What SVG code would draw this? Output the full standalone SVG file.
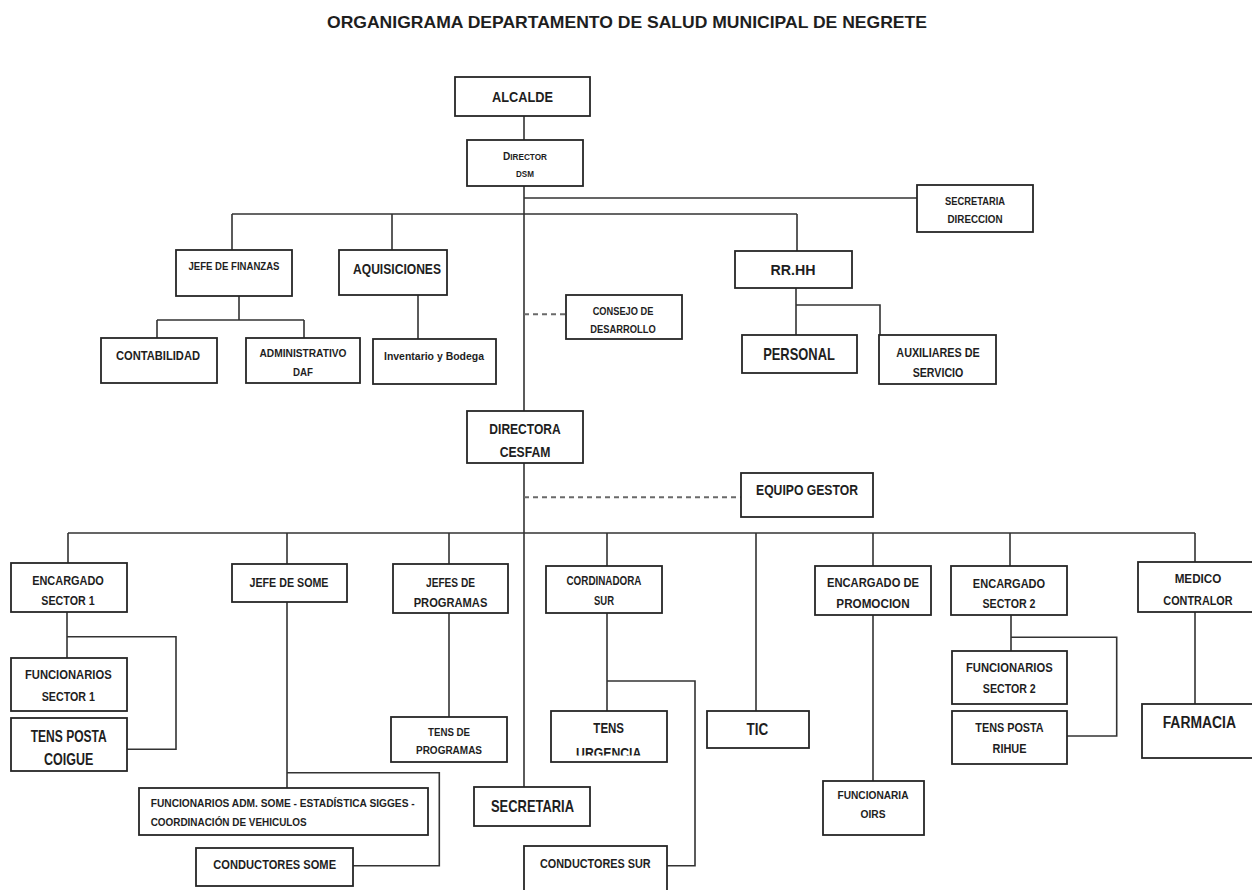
<svg xmlns="http://www.w3.org/2000/svg" width="1252" height="890" viewBox="0 0 1252 890">
<style>
.box{fill:#fff;stroke:#262626;stroke-width:1.8}
.ln{fill:none;stroke:#333;stroke-width:1.6}
.dash{fill:none;stroke:#6a6a6a;stroke-width:2;stroke-dasharray:5 4}
text{font-family:"Liberation Sans",Arial,sans-serif;font-weight:bold;fill:#1e1e1e;text-anchor:middle}
.xs{font-size:10.5px}.s{font-size:11.5px}.m{font-size:13px}.ml{font-size:13.5px}.l{font-size:15.5px}.xl{font-size:17px}
</style>
<defs>
<clipPath id="clipUrg"><rect x="540" y="700" width="140" height="55.5"/></clipPath>
</defs>
<rect width="1252" height="890" fill="#fff"/>
<text x="627" y="28" style="font-size:16.5px" textLength="600" lengthAdjust="spacingAndGlyphs">ORGANIGRAMA DEPARTAMENTO DE SALUD MUNICIPAL DE NEGRETE</text>
<g id="connectors">
<path class="ln" d="M524 116V140M524 186V411M524 198H917M232 214H797M232 214V250M392 214V250M797 214V251"/>
<path class="ln" d="M239 296V320M157 320H304M157 320V338M304 320V338M418 295V339"/>
<path class="ln" d="M796 288V335M796 305H880V335"/>
<path class="dash" d="M524 314.3H566"/>
<path class="ln" d="M524 463V787"/>
<path class="dash" d="M524 497.3H741"/>
<path class="ln" d="M68 533H1195M68 533V563M287 533V564M449 533V564M607 533V566M756 533V711M873 533V566M1010 533V566M1195 533V562"/>
<path class="ln" d="M67 612V658M67 636.7H176V749.3H127"/>
<path class="ln" d="M287 602V788M287 772.7H439.3V865.7H353"/>
<path class="ln" d="M449 613V717"/>
<path class="ln" d="M607 613V711M607 681H695V865.7H667"/>
<path class="ln" d="M873 615V781"/>
<path class="ln" d="M1011 615V651M1011 637.3H1116.7V736H1067"/>
<path class="ln" d="M1195 612V704"/>
</g>
<g id="alcalde"><rect class="box" x="455" y="77" width="135" height="39"/><text class="l" x="522.5" y="101.5" textLength="61" lengthAdjust="spacingAndGlyphs">ALCALDE</text></g>
<g id="director-dsm"><rect class="box" x="467" y="140" width="116" height="46"/><text x="525" y="160" textLength="44" lengthAdjust="spacingAndGlyphs"><tspan style="font-size:10.5px">D</tspan><tspan style="font-size:8.5px">IRECTOR</tspan></text><text x="525" y="176.7" style="font-size:8.5px" textLength="18" lengthAdjust="spacingAndGlyphs">DSM</text></g>
<g id="secretaria-direccion"><rect class="box" x="917" y="185" width="116" height="47"/><text class="s" x="975" y="205" textLength="60" lengthAdjust="spacingAndGlyphs">SECRETARIA</text><text class="s" x="975" y="223.3" textLength="55" lengthAdjust="spacingAndGlyphs">DIRECCION</text></g>
<g id="jefe-finanzas"><rect class="box" x="176" y="250" width="116" height="46"/><text x="234" y="270" style="font-size:10px" textLength="91" lengthAdjust="spacingAndGlyphs">JEFE DE FINANZAS</text></g>
<g id="aquisiciones"><rect class="box" x="339" y="250" width="108" height="45"/><text x="397" y="274" style="font-size:15px" textLength="88" lengthAdjust="spacingAndGlyphs">AQUISICIONES</text></g>
<g id="contabilidad"><rect class="box" x="101" y="338" width="116" height="45"/><text x="158" y="359.5" style="font-size:12px" textLength="84" lengthAdjust="spacingAndGlyphs">CONTABILIDAD</text></g>
<g id="administrativo-daf"><rect class="box" x="246" y="338" width="114" height="45"/><text class="xs" x="303" y="357.3" textLength="87" lengthAdjust="spacingAndGlyphs">ADMINISTRATIVO</text><text class="xs" x="303" y="375.7" textLength="20" lengthAdjust="spacingAndGlyphs">DAF</text></g>
<g id="inventario"><rect class="box" x="373" y="339" width="123" height="45"/><text class="xs" x="434" y="360" textLength="100" lengthAdjust="spacingAndGlyphs">Inventario y Bodega</text></g>
<g id="consejo"><rect class="box" x="566" y="295" width="116" height="44"/><text class="s" x="623" y="315" textLength="60.7" lengthAdjust="spacingAndGlyphs">CONSEJO DE</text><text class="s" x="623" y="333.3" textLength="65.3" lengthAdjust="spacingAndGlyphs">DESARROLLO</text></g>
<g id="rrhh"><rect class="box" x="735" y="251" width="117" height="37"/><text class="l" x="793" y="275" textLength="45" lengthAdjust="spacingAndGlyphs">RR.HH</text></g>
<g id="personal"><rect class="box" x="742" y="335" width="115" height="38"/><text class="xl" x="799" y="360" textLength="71.7" lengthAdjust="spacingAndGlyphs">PERSONAL</text></g>
<g id="auxiliares"><rect class="box" x="879" y="335" width="117" height="49"/><text class="m" x="938" y="356.7" textLength="83.3" lengthAdjust="spacingAndGlyphs">AUXILIARES DE</text><text class="m" x="938" y="376.7" textLength="50.7" lengthAdjust="spacingAndGlyphs">SERVICIO</text></g>
<g id="directora-cesfam"><rect class="box" x="467" y="411" width="116" height="52"/><text class="l" x="525" y="434" textLength="71.3" lengthAdjust="spacingAndGlyphs">DIRECTORA</text><text class="l" x="525" y="456.7" textLength="50.7" lengthAdjust="spacingAndGlyphs">CESFAM</text></g>
<g id="equipo-gestor"><rect class="box" x="741" y="473" width="132" height="44"/><text x="807" y="495" style="font-size:15px" textLength="102" lengthAdjust="spacingAndGlyphs">EQUIPO GESTOR</text></g>
<g id="encargado-sector1"><rect class="box" x="11" y="563" width="116" height="49"/><text class="ml" x="68" y="585" textLength="71.7" lengthAdjust="spacingAndGlyphs">ENCARGADO</text><text class="ml" x="68" y="605" textLength="53.3" lengthAdjust="spacingAndGlyphs">SECTOR 1</text></g>
<g id="jefe-some"><rect class="box" x="232" y="564" width="115" height="38"/><text class="m" x="289" y="586.7" textLength="79" lengthAdjust="spacingAndGlyphs">JEFE DE SOME</text></g>
<g id="jefes-programas"><rect class="box" x="393" y="564" width="115" height="49"/><text class="m" x="450.5" y="586.7" textLength="49" lengthAdjust="spacingAndGlyphs">JEFES DE</text><text class="m" x="450.5" y="606.7" textLength="73.7" lengthAdjust="spacingAndGlyphs">PROGRAMAS</text></g>
<g id="cordinadora-sur"><rect class="box" x="546" y="566" width="116" height="47"/><text x="604" y="585" style="font-size:12px" textLength="75" lengthAdjust="spacingAndGlyphs">CORDINADORA</text><text x="604" y="605" style="font-size:12px" textLength="20" lengthAdjust="spacingAndGlyphs">SUR</text></g>
<g id="encargado-promocion"><rect class="box" x="815" y="566" width="116" height="49"/><text class="m" x="873" y="586.7" textLength="92" lengthAdjust="spacingAndGlyphs">ENCARGADO DE</text><text class="m" x="873" y="608.3" textLength="73.3" lengthAdjust="spacingAndGlyphs">PROMOCION</text></g>
<g id="encargado-sector2"><rect class="box" x="951" y="566" width="116" height="49"/><text class="ml" x="1009" y="587.7" textLength="72.3" lengthAdjust="spacingAndGlyphs">ENCARGADO</text><text class="ml" x="1009" y="608.3" textLength="53" lengthAdjust="spacingAndGlyphs">SECTOR 2</text></g>
<g id="medico-contralor"><rect class="box" x="1138" y="562" width="118" height="50"/><text class="m" x="1198" y="583.3" textLength="46.7" lengthAdjust="spacingAndGlyphs">MEDICO</text><text class="m" x="1198" y="605" textLength="69.3" lengthAdjust="spacingAndGlyphs">CONTRALOR</text></g>
<g id="funcionarios-sector1"><rect class="box" x="11" y="658" width="116" height="53"/><text x="68.3" y="679" style="font-size:12.5px" textLength="86.7" lengthAdjust="spacingAndGlyphs">FUNCIONARIOS</text><text x="68.3" y="700.7" style="font-size:12.5px" textLength="53.3" lengthAdjust="spacingAndGlyphs">SECTOR 1</text></g>
<g id="tens-posta-coigue"><rect class="box" x="11" y="718" width="116" height="53"/><text x="68.7" y="741.7" style="font-size:16px" textLength="76" lengthAdjust="spacingAndGlyphs">TENS POSTA</text><text x="68.7" y="765" style="font-size:16px" textLength="49.3" lengthAdjust="spacingAndGlyphs">COIGUE</text></g>
<g id="funcionarios-adm-some"><rect class="box" x="139" y="788" width="289" height="47"/><text class="xs" x="150.7" y="806.7" style="text-anchor:start" textLength="264" lengthAdjust="spacingAndGlyphs">FUNCIONARIOS ADM. SOME -  ESTADÍSTICA  SIGGES -</text><text class="xs" x="150.7" y="825.7" style="text-anchor:start" textLength="156" lengthAdjust="spacingAndGlyphs">COORDINACIÓN DE VEHICULOS</text></g>
<g id="conductores-some"><rect class="box" x="196" y="848" width="157" height="38"/><text class="ml" x="274.7" y="869.3" textLength="122.7" lengthAdjust="spacingAndGlyphs">CONDUCTORES SOME</text></g>
<g id="tens-programas"><rect class="box" x="391" y="717" width="116" height="45"/><text class="s" x="449" y="736" textLength="42" lengthAdjust="spacingAndGlyphs">TENS DE</text><text class="s" x="449" y="754" textLength="66" lengthAdjust="spacingAndGlyphs">PROGRAMAS</text></g>
<g id="secretaria"><rect class="box" x="474" y="787" width="116" height="39"/><text class="xl" x="532.5" y="811.7" textLength="83" lengthAdjust="spacingAndGlyphs">SECRETARIA</text></g>
<g id="tens-urgencia"><rect class="box" x="551" y="711" width="116" height="51"/><text class="l" x="608.7" y="733.3" textLength="30.7" lengthAdjust="spacingAndGlyphs">TENS</text><text class="l" x="608.7" y="757.5" clip-path="url(#clipUrg)" textLength="65.3" lengthAdjust="spacingAndGlyphs">URGENCIA</text></g>
<g id="tic"><rect class="box" x="707" y="711" width="102" height="37"/><text x="757.3" y="735" style="font-size:16px" textLength="21.7" lengthAdjust="spacingAndGlyphs">TIC</text></g>
<g id="conductores-sur"><rect class="box" x="524" y="846" width="143" height="60"/><text class="ml" x="595.3" y="868.3" textLength="110.7" lengthAdjust="spacingAndGlyphs">CONDUCTORES SUR</text></g>
<g id="funcionaria-oirs"><rect class="box" x="823" y="781" width="101" height="54"/><text class="s" x="873" y="799" textLength="71" lengthAdjust="spacingAndGlyphs">FUNCIONARIA</text><text class="s" x="873" y="818.3" textLength="25" lengthAdjust="spacingAndGlyphs">OIRS</text></g>
<g id="funcionarios-sector2"><rect class="box" x="952" y="651" width="115" height="53"/><text x="1009.3" y="671.7" style="font-size:12.5px" textLength="86.7" lengthAdjust="spacingAndGlyphs">FUNCIONARIOS</text><text x="1009.3" y="693.3" style="font-size:12.5px" textLength="53" lengthAdjust="spacingAndGlyphs">SECTOR 2</text></g>
<g id="tens-posta-rihue"><rect class="box" x="952" y="711" width="115" height="53"/><text class="ml" x="1009.5" y="731.7" textLength="68.3" lengthAdjust="spacingAndGlyphs">TENS POSTA</text><text class="ml" x="1009.5" y="753.3" textLength="34" lengthAdjust="spacingAndGlyphs">RIHUE</text></g>
<g id="farmacia"><rect class="box" x="1142" y="704" width="114" height="54"/><text x="1199.3" y="728.3" style="font-size:16px" textLength="73.3" lengthAdjust="spacingAndGlyphs">FARMACIA</text></g>
</svg>
